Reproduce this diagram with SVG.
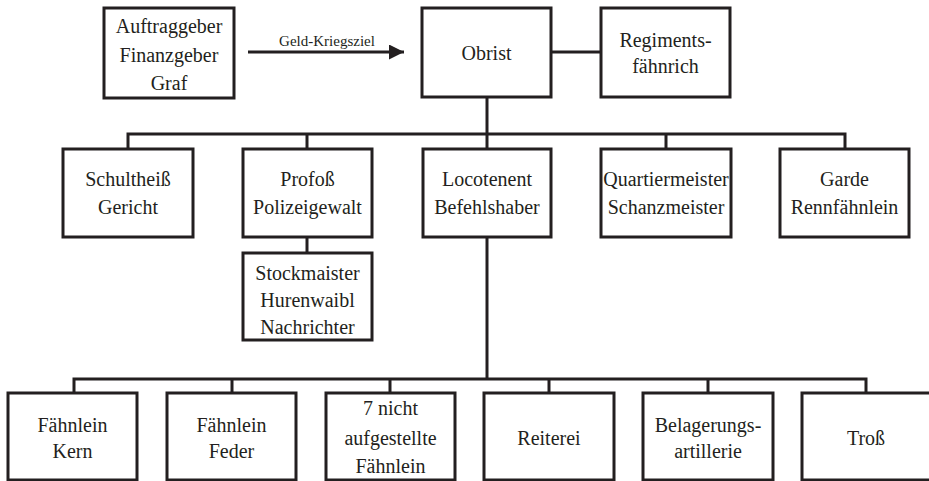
<svg xmlns="http://www.w3.org/2000/svg" width="929" height="481" viewBox="0 0 929 481">
  <style>
    .box { fill: #ffffff; stroke: #231f20; stroke-width: 3; }
    .wire { fill: none; stroke: #231f20; stroke-width: 3; }
    .lbl { font-size: 20px; fill: #231f20; text-anchor: middle; }
    .small { font-size: 15px; fill: #231f20; text-anchor: middle; }
  </style>
  <defs>
    <marker id="arrow" viewBox="0 0 10 10" refX="10" refY="5" markerWidth="7.5" markerHeight="5" markerUnits="strokeWidth" orient="auto">
      <path d="M0,0 L10,5 L0,10 Z" fill="#231f20"/>
    </marker>
  </defs>

  <rect width="929" height="481" fill="#ffffff"/>

  <g font-family="Liberation Serif, Times New Roman, DejaVu Serif, serif">
  <!-- connectors -->
  <g id="connectors">
    <line class="wire" x1="248" y1="52" x2="404" y2="52" marker-end="url(#arrow)"/>
    <text class="small" x="327" y="46">Geld-Kriegsziel</text>
    <line class="wire" x1="551" y1="52" x2="601" y2="52"/>
    <!-- Obrist to staff row -->
    <line class="wire" x1="487" y1="97" x2="487" y2="134"/>
    <polyline class="wire" points="128,149 128,134 845,134 845,149"/>
    <line class="wire" x1="307" y1="134" x2="307" y2="149"/>
    <line class="wire" x1="487" y1="134" x2="487" y2="149"/>
    <line class="wire" x1="666" y1="134" x2="666" y2="149"/>
    <!-- Profoß to subordinates -->
    <line class="wire" x1="307" y1="237" x2="307" y2="253"/>
    <!-- Locotenent to units -->
    <line class="wire" x1="487" y1="237" x2="487" y2="379"/>
    <polyline class="wire" points="74,393 74,379 866,379 866,393"/>
    <line class="wire" x1="232" y1="379" x2="232" y2="393"/>
    <line class="wire" x1="390" y1="379" x2="390" y2="393"/>
    <line class="wire" x1="549" y1="379" x2="549" y2="393"/>
    <line class="wire" x1="708" y1="379" x2="708" y2="393"/>
  </g>

  <!-- top row -->
  <g id="auftraggeber">
    <rect class="box" x="104" y="8" width="130" height="90"/>
    <text class="lbl" x="169" y="33">Auftraggeber</text>
    <text class="lbl" x="169" y="62">Finanzgeber</text>
    <text class="lbl" x="169" y="90">Graf</text>
  </g>
  <g id="obrist">
    <rect class="box" x="422" y="8" width="129" height="89"/>
    <text class="lbl" x="486.5" y="60">Obrist</text>
  </g>
  <g id="regimentsfaehnrich">
    <rect class="box" x="601" y="8" width="129" height="89"/>
    <text class="lbl" x="665.5" y="47">Regiments-</text>
    <text class="lbl" x="665.5" y="73">fähnrich</text>
  </g>

  <!-- staff row -->
  <g id="schultheiss">
    <rect class="box" x="63" y="149" width="130" height="88"/>
    <text class="lbl" x="128" y="186">Schultheiß</text>
    <text class="lbl" x="128" y="214">Gericht</text>
  </g>
  <g id="profoss">
    <rect class="box" x="243" y="149" width="129" height="88"/>
    <text class="lbl" x="307.5" y="186">Profoß</text>
    <text class="lbl" x="307.5" y="214">Polizeigewalt</text>
  </g>
  <g id="stockmaister">
    <rect class="box" x="243" y="253" width="129" height="87"/>
    <text class="lbl" x="307.5" y="280">Stockmaister</text>
    <text class="lbl" x="307.5" y="307">Hurenwaibl</text>
    <text class="lbl" x="307.5" y="334">Nachrichter</text>
  </g>
  <g id="locotenent">
    <rect class="box" x="423" y="149" width="128" height="88"/>
    <text class="lbl" x="487" y="186">Locotenent</text>
    <text class="lbl" x="487" y="214">Befehlshaber</text>
  </g>
  <g id="quartiermeister">
    <rect class="box" x="601" y="149" width="130" height="88"/>
    <text class="lbl" x="666" y="186">Quartiermeister</text>
    <text class="lbl" x="666" y="214">Schanzmeister</text>
  </g>
  <g id="garde">
    <rect class="box" x="780" y="149" width="129" height="88"/>
    <text class="lbl" x="844.5" y="186">Garde</text>
    <text class="lbl" x="844.5" y="214">Rennfähnlein</text>
  </g>

  <!-- unit row -->
  <g id="faehnlein-kern">
    <rect class="box" x="8" y="393" width="129" height="87"/>
    <text class="lbl" x="72.5" y="432">Fähnlein</text>
    <text class="lbl" x="72.5" y="458">Kern</text>
  </g>
  <g id="faehnlein-feder">
    <rect class="box" x="167" y="393" width="129" height="87"/>
    <text class="lbl" x="231.5" y="432">Fähnlein</text>
    <text class="lbl" x="231.5" y="458">Feder</text>
  </g>
  <g id="nicht-aufgestellt">
    <rect class="box" x="326" y="393" width="129" height="87"/>
    <text class="lbl" x="390.5" y="415">7 nicht</text>
    <text class="lbl" x="390.5" y="445">aufgestellte</text>
    <text class="lbl" x="390.5" y="473">Fähnlein</text>
  </g>
  <g id="reiterei">
    <rect class="box" x="484" y="393" width="130" height="87"/>
    <text class="lbl" x="549" y="445">Reiterei</text>
  </g>
  <g id="belagerungsartillerie">
    <rect class="box" x="643" y="393" width="130" height="87"/>
    <text class="lbl" x="708" y="432">Belagerungs-</text>
    <text class="lbl" x="708" y="458">artillerie</text>
  </g>
  <g id="tross">
    <rect class="box" x="802" y="393" width="130" height="87"/>
    <text class="lbl" x="866" y="445">Troß</text>
  </g>
  </g>
</svg>
